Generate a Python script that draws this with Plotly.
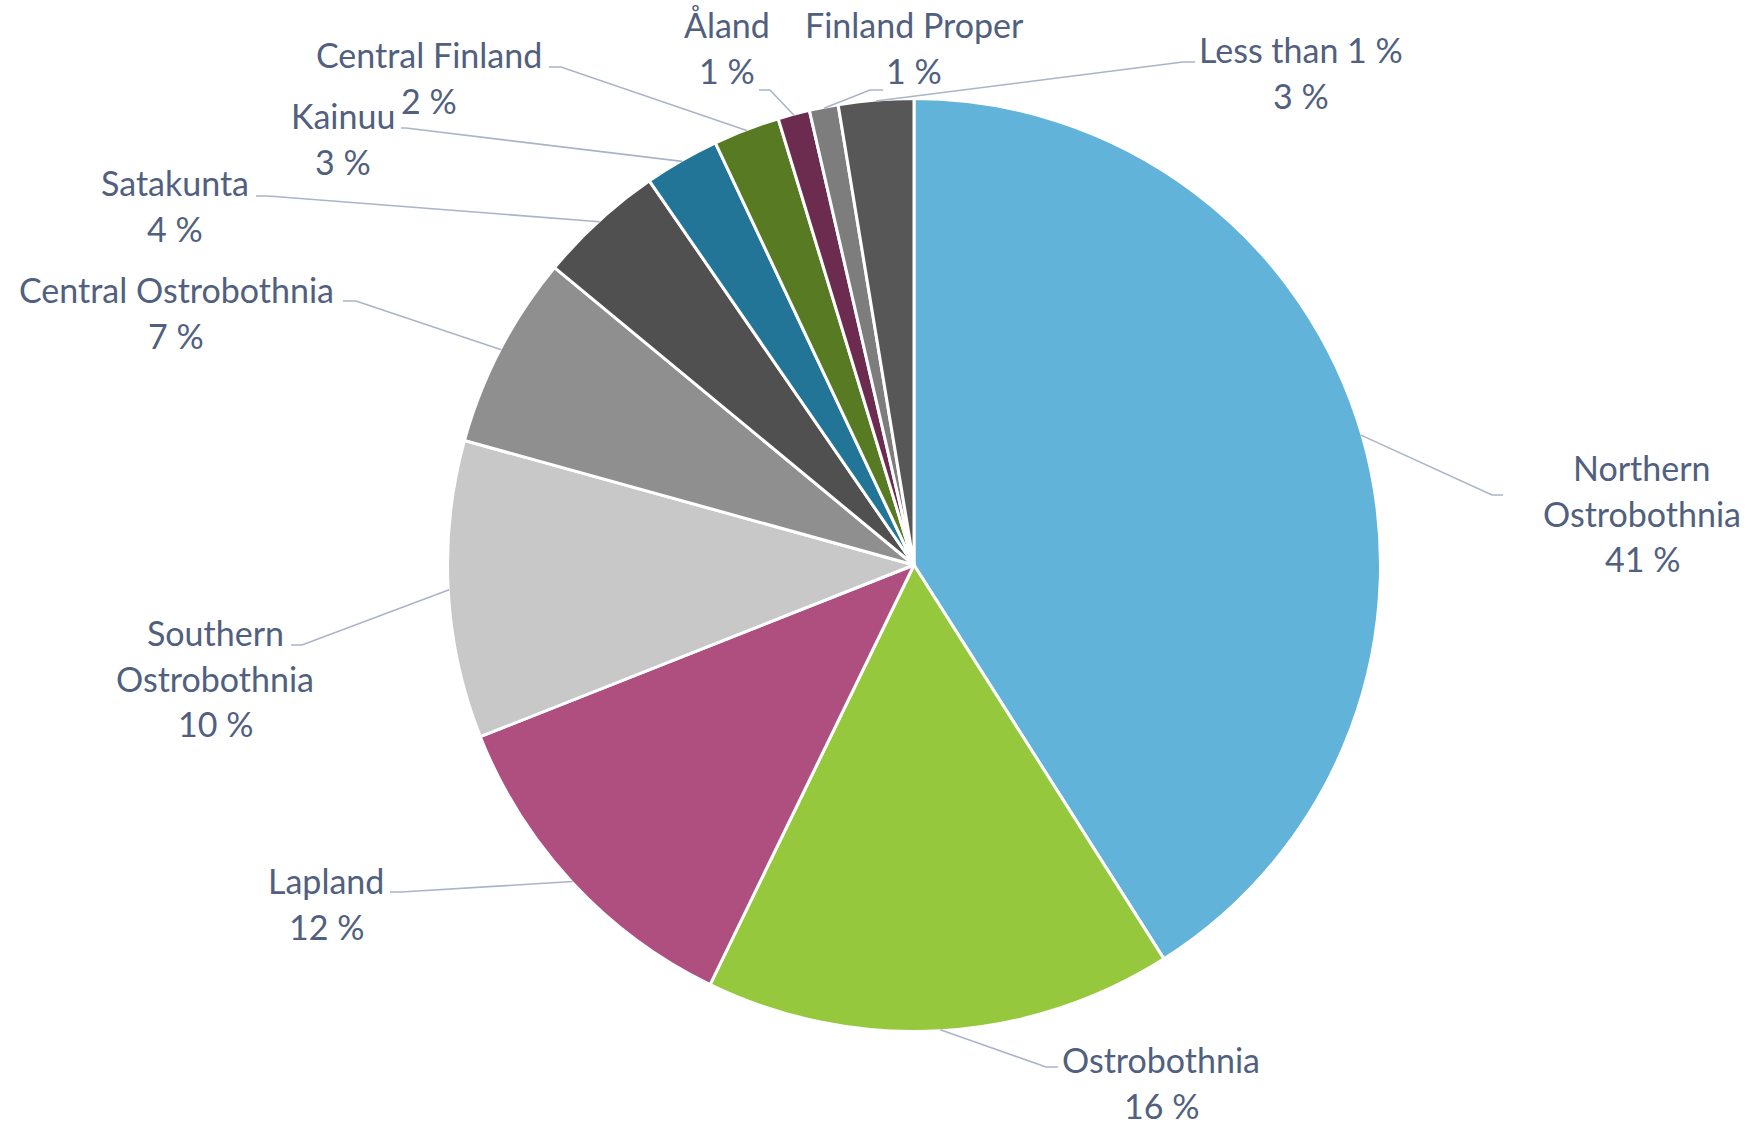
import math
import plotly.graph_objects as go

# ---------------- data ----------------
regions = ["Northern Ostrobothnia", "Ostrobothnia", "Lapland", "Southern Ostrobothnia",
           "Central Ostrobothnia", "Satakunta", "Kainuu", "Central Finland", "Åland",
           "Finland Proper", "Less than 1 %"]
shares = [41.0, 16.2, 11.8, 10.3, 6.7, 4.4, 2.6, 2.3, 1.1, 1.0, 2.6]
label_lines = [["Northern", "Ostrobothnia"], ["Ostrobothnia"], ["Lapland"], ["Southern", "Ostrobothnia"],
               ["Central Ostrobothnia"], ["Satakunta"], ["Kainuu"], ["Central Finland"], ["Åland"],
               ["Finland Proper"], ["Less than 1 %"]]
colors = ["#61b3d9", "#95c83d", "#ae4f80", "#c8c8c8", "#8f8f8f", "#505050",
          "#237597", "#577a23", "#6b2c4f", "#7d7d7d", "#575757"]

# ---------------- layout (pixels) ----------------
W, H = 1748, 1124
CX, CY, R = 914, 565, 466.5
# leader elbow point, horizontal end, text centre x, first baseline
elbows = [(1492, 495), (1046, 1067), (401, 892), (302, 645), (356, 301), (268, 196),
          (406, 128), (561, 67), (770, 90), (870, 90), (1183, 62)]
ends = [(1503, 495), (1058, 1067), (390, 892), (291, 645), (343, 301), (256, 196),
        (401, 128), (549, 67), (759, 90), (883, 90), (1195, 62)]
text_cx = [1642, 1161, 326, 215, 176, 175, 343, 429, 727, 914, 1301]
text_base = [480, 1072, 893, 645, 302, 195, 128, 67, 37, 37, 62]
LINE_H = 45.5
FS = 34
FONT = "Lato"
TXT_COL = "#50607e"
LEAD_COL = "#aab4c8"


def px(x):
    return x / W


def py(y):
    return 1 - y / H


fig = go.Figure()
fig.add_trace(go.Pie(
    labels=regions, values=shares, sort=False, direction="clockwise", rotation=0,
    marker=dict(colors=colors, line=dict(color="white", width=3)),
    textinfo="none", hoverinfo="label+percent", showlegend=False,
    domain=dict(x=[px(CX - R), px(CX + R)], y=[py(CY + R), py(CY - R)]),
))

total = sum(shares)
shapes = []
annotations = []
cum = 0.0
for i, v in enumerate(shares):
    mid = (cum + v / 2) / total * 2 * math.pi
    cum += v
    sx = CX + (R - 1) * math.sin(mid)
    sy = CY - (R - 1) * math.cos(mid)
    ex, ey = elbows[i]
    hx, hy = ends[i]
    shapes.append(dict(
        type="path", xref="paper", yref="paper",
        path=f"M {px(sx)},{py(sy)} L {px(ex)},{py(ey)} L {px(hx)},{py(hy)}",
        line=dict(color=LEAD_COL, width=1.6), layer="above"))
    pct = f"{round(v / total * 100):.0f} %"
    lines = label_lines[i] + [pct]
    for j, t in enumerate(lines):
        base = text_base[i] + j * LINE_H
        annotations.append(dict(
            x=px(text_cx[i]), y=py(base - 0.36 * FS), xref="paper", yref="paper",
            text=t, showarrow=False, xanchor="center", yanchor="middle",
            font=dict(family=FONT, size=FS, color=TXT_COL)))

fig.update_layout(
    width=W, height=H, margin=dict(l=0, r=0, t=0, b=0),
    paper_bgcolor="white", plot_bgcolor="white",
    shapes=shapes, annotations=annotations,
)
fig.write_html("out.html", config={"displayModeBar": False},
               post_script="document.body.style.margin='0';document.body.style.overflow='hidden';")
